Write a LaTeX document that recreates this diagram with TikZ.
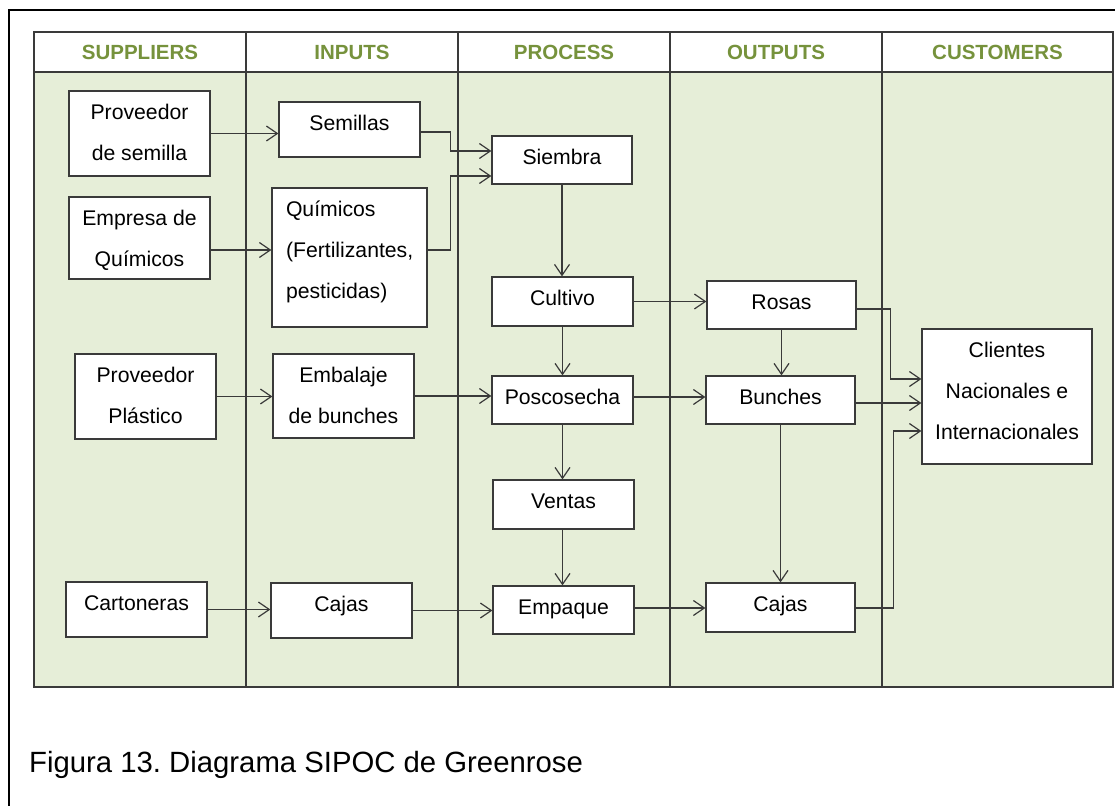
\documentclass[tikz,border=0pt]{standalone}
\usepackage{fontspec}
\setmainfont{Liberation Sans}
\usetikzlibrary{arrows.meta}
\definecolor{lanefill}{HTML}{E6EED8}
\definecolor{headgreen}{HTML}{76923C}
\definecolor{inkgray}{HTML}{3A3A3A}
\frenchspacing
% box contents: width, height (px), text top-aligned with a fixed first baseline
\newcommand{\boxtxt}[3]{\parbox[c][#2pt][t]{#1pt}{\centering\rule{0pt}{28.5pt}#3}}
\newcommand{\boxtxtl}[3]{\parbox[c][#2pt][t]{#1pt}{\raggedright\leftskip=14pt\rule{0pt}{28.5pt}#3}}
\begin{document}
\begin{tikzpicture}[x=1pt,y=-1pt,
  box/.style={draw=inkgray,line width=1.2pt,fill=white,inner sep=0pt,
    font=\fontsize{21.2}{41}\selectfont},
  arr/.style={draw=inkgray,line width=1.2pt,-{Straight Barb[length=11pt,width=15pt]}},
  head/.style={font=\bfseries\fontsize{20.5}{24}\selectfont,text=headgreen,anchor=base,inner sep=0pt},
  lane/.style={draw=inkgray,line width=1.1pt}]
\useasboundingbox (0,0) rectangle (1115,805);
\fill[white] (0,0) rectangle (1115,805);

% outer frame
\draw[line width=2pt,black] (9,806) -- (9,10) -- (1116,10);

% lanes and header row
\fill[lanefill] (34,72) rectangle (1113,687);
\fill[white] (34,32) rectangle (1113,72);
\draw[lane] (34,32) rectangle (1113,687);
\draw[lane] (34,72) -- (1113,72);
\foreach \cx in {246,458,670,882} \draw[lane] (\cx,32) -- (\cx,687);

\node[head] (hS) at (140,60) {SUPPLIERS};
\node[head] (hI) at (352,60) {INPUTS};
\node[head] (hP) at (564,60) {PROCESS};
\node[head] (hO) at (776,60) {OUTPUTS};
\node[head] (hC) at (997.5,60) {CUSTOMERS};

% suppliers
\node[box] (ps) at (139.5,133.5) {\boxtxt{141}{85}{Proveedor\\de semilla}};
\node[box] (eq) at (139.5,238)   {\boxtxt{141}{82}{Empresa de\\Químicos}};
\node[box] (pp) at (145.5,396.5) {\boxtxt{141}{85}{Proveedor\\Plástico}};
\node[box] (ca) at (136.5,609.5) {\boxtxt{141}{55}{Cartoneras}};

% inputs
\node[box] (se) at (349.5,129.5) {\boxtxt{141}{55}{Semillas}};
\node[box] (qu) at (349.5,257.5) {\boxtxtl{155}{139}{Químicos\\(Fertilizantes,\\pesticidas)}};
\node[box] (em) at (343.5,396)   {\boxtxt{141}{84}{Embalaje\\de bunches}};
\node[box] (cj) at (341.5,610.5) {\boxtxt{141}{55}{Cajas}};

% process
\node[box] (si) at (562,160)     {\boxtxt{140}{48}{Siembra}};
\node[box] (cu) at (562.5,301.5) {\boxtxt{141}{49}{Cultivo}};
\node[box] (po) at (562.5,400)   {\boxtxt{141}{48}{Poscosecha}};
\node[box] (ve) at (563.5,504.5) {\boxtxt{141}{49}{Ventas}};
\node[box] (ep) at (563.5,610)   {\boxtxt{141}{48}{Empaque}};

% outputs
\node[box] (ro) at (781.5,305)   {\boxtxt{149}{48}{Rosas}};
\node[box] (bu) at (780.5,400)   {\boxtxt{149}{48}{Bunches}};
\node[box] (co) at (780.5,607.5) {\boxtxt{149}{49}{Cajas}};

% customers
\node[box] (cl) at (1007,396.5)  {\boxtxt{170}{135}{Clientes\\Nacionales e\\Internacionales}};

% suppliers -> inputs
\draw[arr] (ps.east) -- (ps.east -| se.west);
\coordinate (eqo) at ([yshift=-12pt]eq.east);
\draw[arr] (eqo) -- (eqo -| qu.west);
\draw[arr] (pp.east) -- (pp.east -| em.west);
\draw[arr] (ca.east) -- (ca.east -| cj.west);

% inputs -> process
\draw[arr] ([yshift=-2.5pt]se.east) -- ++(29.5,0) |- ([yshift=9pt]si.west);
\draw[arr] ([yshift=7.5pt]qu.east) -- ++(22.5,0) |- ([yshift=-16pt]si.west);
\draw[arr] (em.east) -- (em.east -| po.west);
\draw[arr] (cj.east) -- (cj.east -| ep.west);

% process chain
\draw[arr] (si.south) -- (si.south |- cu.north);
\draw[arr] (cu.south) -- (cu.south |- po.north);
\draw[arr] (po.south) -- (po.south |- ve.north);
\draw[arr] (po.south |- ve.south) -- (po.south |- ep.north);

% process -> outputs
\draw[arr] (cu.east) -- (cu.east -| ro.west);
\coordinate (poo) at ([yshift=3pt]po.east);
\draw[arr] (poo) -- (poo -| bu.west);
\coordinate (epo) at ([yshift=2pt]ep.east);
\draw[arr] (epo) -- (epo -| co.west);
\draw[arr] (ro.south) -- (ro.south |- bu.north);
\draw[arr] (bu.south) -- (bu.south |- co.north);

% outputs -> customers
\draw[arr] ([yshift=-4pt]ro.east) -- ++(34,0) |- ([yshift=17.5pt]cl.west);
\coordinate (buo) at ([yshift=-3pt]bu.east);
\draw[arr] (buo) -- (buo -| cl.west);
\draw[arr] ([yshift=-0.5pt]co.east) -- ++(38,0) |- ([yshift=-34.5pt]cl.west);

% caption
\node[anchor=base west,inner sep=0pt,font=\fontsize{29.3}{35}\selectfont] (cap) at (29,772)
  {Figura 13. Diagrama SIPOC de Greenrose};
\end{tikzpicture}
\end{document}
